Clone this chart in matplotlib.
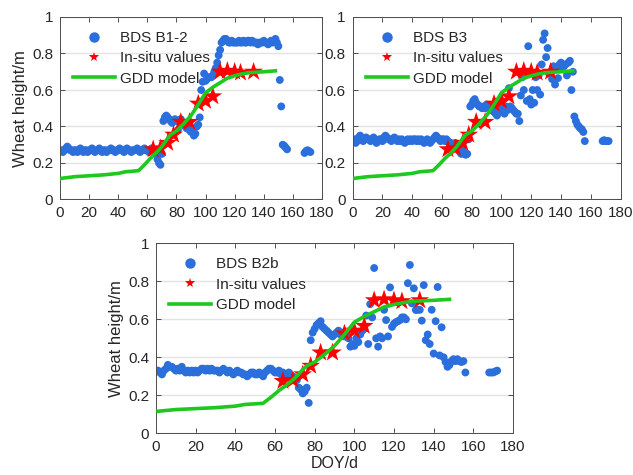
import matplotlib

matplotlib.use("Agg")
import matplotlib.pyplot as plt
from matplotlib.lines import Line2D

# ---- data ----
INSITU_DOY = [64, 69, 74, 78, 83, 89, 95, 100, 105, 110, 115, 120, 124, 133]
INSITU_H = [0.275, 0.28, 0.31, 0.355, 0.425, 0.425, 0.525, 0.54, 0.565, 0.70, 0.705, 0.70, 0.695, 0.70]

GDD_DOY = [1, 10, 20, 30, 40, 45, 50, 54, 58, 62, 66, 70, 74, 76, 80, 85, 90, 95, 100, 105,
           110, 115, 120, 125, 130, 140, 148]
GDD_H = [0.116, 0.125, 0.130, 0.135, 0.143, 0.152, 0.155, 0.158, 0.19, 0.225, 0.255, 0.29,
         0.335, 0.355, 0.375, 0.415, 0.46, 0.52, 0.585, 0.615, 0.64, 0.665, 0.678, 0.688,
         0.695, 0.70, 0.705]

B12_DOY = list(range(1, 157)) + [168, 169, 170, 171, 172]
B12_H = [
    0.27, 0.26, 0.27, 0.28, 0.29, 0.28, 0.27, 0.27, 0.26, 0.27,
    0.27, 0.26, 0.27, 0.28, 0.27, 0.26, 0.27, 0.27, 0.26, 0.27,
    0.27, 0.28, 0.27, 0.26, 0.27, 0.27, 0.28, 0.27, 0.26, 0.27,
    0.27, 0.26, 0.27, 0.27, 0.28, 0.27, 0.27, 0.26, 0.27, 0.27,
    0.28, 0.27, 0.27, 0.26, 0.27, 0.28, 0.27, 0.27, 0.26, 0.27,
    0.27, 0.27, 0.28, 0.27, 0.26, 0.27, 0.27, 0.28, 0.27, 0.27,
    0.26, 0.27, 0.28, 0.27, 0.27, 0.25, 0.22, 0.20, 0.19, 0.25,
    0.43, 0.45, 0.46, 0.45, 0.44, 0.43, 0.42, 0.43, 0.44, 0.43,
    0.38, 0.43, 0.44, 0.42, 0.41, 0.40, 0.39, 0.40, 0.38, 0.37,
    0.37, 0.35, 0.36, 0.40, 0.41, 0.45, 0.60, 0.645, 0.69, 0.65,
    0.66, 0.67, 0.67, 0.67, 0.68, 0.70, 0.72, 0.75, 0.79, 0.82,
    0.86, 0.87, 0.88, 0.88, 0.87, 0.86, 0.86, 0.87, 0.86, 0.86,
    0.86, 0.86, 0.87, 0.86, 0.86, 0.87, 0.86, 0.86, 0.87, 0.87,
    0.86, 0.87, 0.86, 0.86, 0.86, 0.85, 0.86, 0.86, 0.86, 0.87,
    0.86, 0.86, 0.85, 0.86, 0.87, 0.86, 0.87, 0.88, 0.86, 0.84,
    0.655, 0.51, 0.30, 0.295, 0.285, 0.275,
    0.255, 0.265, 0.27, 0.265, 0.26,
]

B3_DOY = list(range(1, 157)) + [168, 169, 170, 171, 172]
B3_H = [
    0.33, 0.31, 0.32, 0.34, 0.35, 0.33, 0.32, 0.33, 0.34, 0.33,
    0.33, 0.32, 0.33, 0.34, 0.33, 0.31, 0.32, 0.33, 0.33, 0.32,
    0.34, 0.35, 0.34, 0.33, 0.33, 0.32, 0.33, 0.34, 0.33, 0.32,
    0.33, 0.32, 0.33, 0.32, 0.31, 0.32, 0.33, 0.32, 0.33, 0.32,
    0.33, 0.33, 0.32, 0.33, 0.32, 0.33, 0.32, 0.31, 0.32, 0.33,
    0.32, 0.31, 0.32, 0.33, 0.34, 0.35, 0.34, 0.33, 0.32, 0.33,
    0.33, 0.32, 0.33, 0.32, 0.31, 0.31, 0.30, 0.30, 0.31, 0.29,
    0.27, 0.26, 0.25, 0.27, 0.25, 0.245, 0.25, 0.33, 0.51, 0.52,
    0.54, 0.55, 0.53, 0.52, 0.51, 0.51, 0.50, 0.51, 0.50, 0.52,
    0.51, 0.50, 0.49, 0.50, 0.48, 0.47, 0.46, 0.48, 0.50, 0.49,
    0.50, 0.47, 0.51, 0.49, 0.61, 0.51, 0.50, 0.49, 0.48, 0.47,
    0.47, 0.43, 0.57, 0.67, 0.60, 0.69, 0.54, 0.84, 0.55, 0.52,
    0.60, 0.53, 0.67, 0.60, 0.68, 0.575, 0.74, 0.875, 0.91, 0.78,
    0.83, 0.69, 0.70, 0.66, 0.73, 0.63, 0.72, 0.665, 0.74, 0.75,
    0.72, 0.73, 0.74, 0.68, 0.75, 0.76, 0.60, 0.70,
    0.455, 0.43, 0.41, 0.40, 0.39, 0.385, 0.37, 0.32,
    0.32, 0.325, 0.32, 0.32, 0.32,
]

B2B_DOY = list(range(1, 157)) + [168, 169, 170, 171, 172]
B2B_H = [
    0.33, 0.32, 0.31, 0.33, 0.34, 0.36, 0.35, 0.35, 0.34, 0.33,
    0.34, 0.33, 0.35, 0.33, 0.32, 0.33, 0.32, 0.33, 0.32, 0.33,
    0.32, 0.33, 0.34, 0.34, 0.33, 0.34, 0.33, 0.34, 0.33, 0.33,
    0.33, 0.32, 0.33, 0.34, 0.33, 0.32, 0.33, 0.32, 0.31, 0.32,
    0.33, 0.32, 0.32, 0.31, 0.31, 0.30, 0.31, 0.32, 0.32, 0.31,
    0.31, 0.32, 0.31, 0.30, 0.32, 0.33, 0.34, 0.34, 0.33, 0.32,
    0.32, 0.33, 0.31, 0.32, 0.31, 0.31, 0.32, 0.28, 0.30, 0.29,
    0.28, 0.24, 0.23, 0.21, 0.22, 0.24, 0.16, 0.49, 0.53, 0.55,
    0.57, 0.58, 0.59, 0.56, 0.55, 0.54, 0.53, 0.52, 0.51, 0.52,
    0.53, 0.54, 0.52, 0.53, 0.51, 0.52, 0.50, 0.456, 0.47, 0.46,
    0.50, 0.48, 0.52, 0.54, 0.55, 0.62, 0.47, 0.68, 0.61, 0.87,
    0.50, 0.456, 0.51, 0.50, 0.65, 0.596, 0.51, 0.768, 0.56, 0.577,
    0.585, 0.59, 0.596, 0.61, 0.61, 0.60, 0.79, 0.886, 0.684, 0.763,
    0.649, 0.65, 0.65, 0.593, 0.78, 0.49, 0.52, 0.47, 0.65, 0.42,
    0.59, 0.77, 0.41, 0.558, 0.40, 0.375, 0.35, 0.36, 0.38, 0.39,
    0.38, 0.39, 0.38, 0.375, 0.38, 0.32,
    0.32, 0.32, 0.32, 0.325, 0.33,
]

PANELS = [
    ("BDS B1-2", B12_DOY, B12_H),
    ("BDS B3", B3_DOY, B3_H),
    ("BDS B2b", B2B_DOY, B2B_H),
]

BLUE = "#2a6fdb"
GREEN = "#1ec81e"
RED = "#ff0000"
AX_COLOR = "#4d4d4d"
TEXT_COLOR = "#262626"

W, H = 633, 475
# axes boxes in pixels: left, top, right, bottom
BOXES = [(60, 17, 322, 199.5), (352.7, 17, 620.5, 199.5), (156, 243.3, 513, 433.3)]


def style_axes(ax):
    ax.set_xlim(0, 180)
    ax.set_ylim(0, 1)
    ax.set_xticks(range(0, 181, 20))
    ax.set_yticks([0, 0.2, 0.4, 0.6, 0.8, 1.0])
    ax.set_yticklabels(["0", "0.2", "0.4", "0.6", "0.8", "1"])
    ax.yaxis.grid(True, color="#e3e3e3", linewidth=1.0)
    ax.set_axisbelow(True)
    ax.tick_params(direction="in", top=True, right=True, length=3.5, width=0.7,
                   color=AX_COLOR, labelcolor=TEXT_COLOR, labelsize=11, pad=5)
    for spine in ax.spines.values():
        spine.set_color(AX_COLOR)
        spine.set_linewidth(0.7)


def main():
    plt.rcParams["font.family"] = ["Liberation Sans", "DejaVu Sans"]
    fig = plt.figure(figsize=(W / 100, H / 100), dpi=100)

    for (name, doy, h), (l, t, r, b) in zip(PANELS, BOXES):
        ax = fig.add_axes([l / W, 1 - b / H, (r - l) / W, (b - t) / H])
        style_axes(ax)
        ax.scatter(doy, h, s=32, color=BLUE, edgecolors="none", zorder=2)
        ax.scatter(INSITU_DOY, INSITU_H, s=200, marker="*", color=RED, edgecolors="none", zorder=3)
        ax.plot(GDD_DOY, GDD_H, color=GREEN, linewidth=2.6, zorder=4)

        handles = [
            Line2D([], [], linestyle="none", marker="o", markersize=7.5, color=BLUE, markeredgewidth=0),
            Line2D([], [], linestyle="none", marker="*", markersize=7, color=RED, markeredgewidth=0),
            Line2D([], [], color=GREEN, linewidth=2.6),
        ]
        anchor = ((l + 13) / W, 1 - (t + 14) / H)
        ax.legend(handles, [name, "In-situ values", "GDD model"], loc="upper left",
                  bbox_to_anchor=anchor, bbox_transform=fig.transFigure, frameon=False,
                  fontsize=11, handlelength=2.75, handletextpad=0.35, labelspacing=0.42,
                  borderpad=0, borderaxespad=0, labelcolor=TEXT_COLOR)

        if name != "BDS B3":
            ax.set_ylabel("Wheat height/m", fontsize=12, color=TEXT_COLOR, labelpad=3)
        if name == "BDS B2b":
            ax.set_xlabel("DOY/d", fontsize=11.5, color=TEXT_COLOR, labelpad=1)

    fig.savefig("out.png", dpi=100)
    plt.close(fig)


if __name__ == "__main__":
    main()
